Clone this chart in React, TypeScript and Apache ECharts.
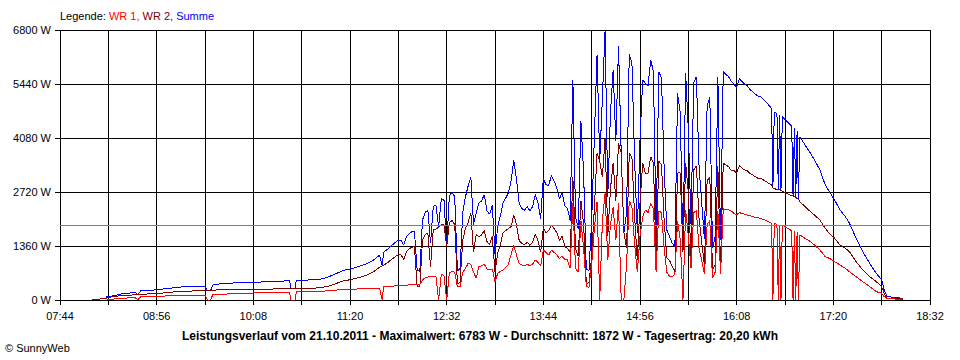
import React, { useEffect, useRef } from "react";
import * as echarts from "echarts";

// Minutes after 07:44 (x axis runs 07:44 .. 18:32)
const minutes = [
  24, 30, 34, 35, 40, 45, 50, 56, 58, 60,
  67, 75, 78, 84, 91, 99, 105, 108, 110, 112,
  114, 120, 130, 144, 155, 165, 171, 172, 175, 176,
  181, 190, 194, 199, 203, 206, 211, 216, 220, 225,
  229, 234, 238, 240, 241, 244, 248,
  250, 252, 254, 256, 258, 260, 262, 264, 266, 268,
  270, 272, 274, 276, 278, 280, 282, 284, 286, 288,
  290, 292, 294, 296, 298, 300, 302, 304, 306, 308,
  310, 312, 314, 316, 318, 320, 322, 324, 326, 328,
  330, 332, 334, 336, 338, 340, 342, 344, 346, 348,
  350, 352, 354, 356, 358, 360, 362, 364, 366, 368,
  370, 372, 374, 376, 378, 380, 382, 384, 386, 388,
  390, 392, 394, 396, 398, 400, 402, 404, 406, 408,
  410, 412, 414, 416, 418, 420, 422, 424, 426, 428,
  430, 432, 434, 436, 438, 440, 442, 444, 446, 448,
  450, 452, 454, 456, 458, 460, 462, 464, 466, 468,
  470, 472, 474, 476, 478, 480, 482, 484, 486, 488,
  490, 492, 494, 496, 498, 500, 502, 504, 506, 508,
  510, 512, 514, 516, 518, 520,
  522, 526, 530, 531, 532, 534, 535, 536, 537, 538,
  540, 544, 545, 546, 547, 548, 549, 550, 551, 555,
  559, 562, 566, 570, 573, 577, 581, 585, 588, 593,
  598, 603, 608, 612, 614, 616, 620, 624, 628,
];

// WR 1 (W)
const wr1 = [
  null, null, null, 20, 25, 40, 50, 60, 0, 84,
  90, 95, 100, 105, 110, 115, 118, 120, 0, 0,
  140, 143, 160, 176, 185, 195, 200, 0, 0, 205,
  210, 215, 218, 230, 240, 250, 265, 270, 275, 285,
  290, 295, 300, 0, 336, 336, 350,
  360, 370, 370, 365, 375, 380, 390, 395, 400, 390,
  504, 560, 580, 588, 590, 600, 0, 650, 620, 0,
  680, 713, 700, 336, 340, 700, 797, 923, 900, 700,
  546, 840, 860, 900, 780, 760, 780, 460, 672, 720,
  756, 820, 900, 1150, 1385, 1133, 923, 880, 860, 900,
  860, 900, 1007, 950, 850, 1259, 1200, 1133, 1259, 1200,
  1133, 1050, 1100, 1020, 1007, 797, 2450, 800, 700, 2000,
  1300, 350, 320, 900, 1800, 2476, 0, 2000, 2700, 1000,
  1900, 2350, 1500, 2450, 0, 0, 900, 2500, 2350, 1400,
  700, 1600, 2100, 2267, 2200, 2435, 2300, 700, 2250, 2200,
  1300, 700, 600, 588, 650, 2000, 1500, 0, 2267, 1600,
  800, 2200, 2250, 1300, 1000, 650, 1900, 2000, 550, 700,
  2250, 650, 2300, 2280, 2267, 2240, 2180, 2150, 2200, 2180,
  2160, 2140, 2120, 2100, 2080, 2070,
  2050, 2000, 1931, 0, 1920, 1910, 0, 1900, 0, 1880,
  1847, 1763, 1750, 0, 1740, 0, 1700, 0, 1637, 1553,
  1469, 1385, 1259, 1091, 1050, 965, 880, 797, 714, 588,
  462, 336, 210, 170, 80, 40, 30, 20, 10,
];

// WR 2 (W)
const wr2 = [
  25, 25, 30, 70, 80, 110, 120, 130, 135, 143,
  155, 168, 185, 200, 220, 227, 228, 228, 228, 230,
  240, 270, 270, 270, 275, 280, 285, 280, 280, 285,
  285, 300, 310, 340, 385, 420, 480, 510, 540, 590,
  630, 720, 830, 860, 870, 940, 1050,
  1100, 1140, 1140, 1020, 1220, 1280, 1330, 1340, 350, 330,
  1511, 1650, 1680, 840, 1763, 1790, 1830, 1900, 1900, 1343,
  1950, 2000, 1900, 400, 450, 1511, 1805, 1950, 2200, 1200,
  1650, 1600, 1637, 1750, 1470, 1400, 1600, 700, 1175, 1400,
  1700, 1750, 1800, 1850, 2140, 1900, 1500, 1420, 1400, 1450,
  1380, 1450, 1650, 1500, 1200, 1805, 1700, 1750, 1880, 1800,
  1700, 1500, 1600, 1350, 1300, 1200, 3100, 1300, 1100, 2500,
  1900, 420, 430, 1100, 2300, 3700, 3500, 3100, 4083, 1600,
  2800, 3450, 2500, 3950, 3700, 1700, 1300, 3700, 3600, 2100,
  1000, 2430, 3450, 3190, 3200, 3610, 3450, 1050, 3500, 3400,
  2000, 1060, 1000, 840, 700, 3200, 3200, 1200, 3442, 2700,
  1100, 3274, 3375, 2050, 1435, 880, 3000, 3100, 750, 900,
  3375, 860, 3450, 3400, 3358, 3260, 3260, 3200, 3380, 3320,
  3274, 3250, 3180, 3148, 3100, 3064,
  3064, 2980, 2896, 2820, 2800, 2790, 2780, 2770, 2760, 2740,
  2700, 2644, 2630, 2620, 2600, 2580, 2560, 2540, 2476, 2350,
  2224, 2140, 2015, 1805, 1680, 1553, 1385, 1300, 1217, 965,
  755, 588, 462, 336, 150, 50, 40, 40, 25,
];

const yTicks = [0, 1360, 2720, 4080, 5440, 6800];
const startMinuteOfDay = 7 * 60 + 44;
const averageW = 1872;
const titleText =
  "Leistungsverlauf vom 21.10.2011 - Maximalwert: 6783 W - Durchschnitt: 1872 W - Tagesertrag: 20,20 kWh";

const FONT = "'Liberation Sans', Arial, sans-serif";

function fmtTime(v: number): string {
  const m = startMinuteOfDay + v;
  const hh = Math.floor(m / 60);
  const mm = m % 60;
  return (hh < 10 ? "0" : "") + hh + ":" + (mm < 10 ? "0" : "") + mm;
}

export default function App() {
  const ref = useRef<HTMLDivElement>(null);

  useEffect(() => {
    if (!ref.current) return;
    const chart = echarts.init(ref.current, null, { renderer: "svg" });

    const pts = (arr: (number | null)[]) =>
      minutes
        .map((t, i) => (arr[i] == null ? null : [t, arr[i] as number]))
        .filter((p) => p !== null) as number[][];

    const summe = minutes.map((t, i) => [t, (wr1[i] ?? 0) + (wr2[i] ?? 0)]);

    const lineBase = {
      type: "line",
      showSymbol: false,
      symbol: "none",
      silent: true,
      animation: false,
    };

    chart.setOption({
      animation: false,
      backgroundColor: "#ffffff",
      textStyle: { fontFamily: FONT },
      title: [
        {
          left: 60,
          top: 10,
          padding: 0,
          text: "{k|Legende: }{a|WR 1,}{b| WR 2,}{c| Summe}",
          textStyle: {
            fontSize: 11,
            fontWeight: "normal",
            fontFamily: FONT,
            rich: {
              k: { color: "#000000", fontSize: 11, fontFamily: FONT },
              a: { color: "#ff0000", fontSize: 11, fontFamily: FONT },
              b: { color: "#800000", fontSize: 11, fontFamily: FONT },
              c: { color: "#0000ff", fontSize: 11, fontFamily: FONT },
            },
          },
        },
        {
          left: "center",
          top: 330,
          padding: 0,
          text: titleText,
          textStyle: {
            fontSize: 12,
            fontWeight: "bold",
            color: "#000000",
            fontFamily: FONT,
          },
        },
        {
          left: 5,
          top: 342,
          padding: 0,
          text: "© SunnyWeb",
          textStyle: {
            fontSize: 11,
            fontWeight: "normal",
            color: "#000000",
            fontFamily: FONT,
          },
        },
      ],
      grid: { left: 60, top: 30, width: 870, height: 270, containLabel: false },
      xAxis: {
        type: "value",
        min: 0,
        max: 648,
        interval: 36,
        axisLine: { show: true, onZero: false, lineStyle: { color: "#000000", width: 1 } },
        axisTick: { show: true, length: 5, lineStyle: { color: "#000000", width: 1 } },
        axisLabel: {
          color: "#000000",
          fontSize: 11,
          fontFamily: FONT,
          margin: 10,
          showMinLabel: true,
          showMaxLabel: true,
          formatter: (v: number) => (v % 72 === 0 ? fmtTime(v) : ""),
        },
        splitLine: { show: true, lineStyle: { color: "#000000", width: 1 } },
      },
      yAxis: {
        type: "value",
        min: yTicks[0],
        max: yTicks[yTicks.length - 1],
        interval: yTicks[1] - yTicks[0],
        axisLine: { show: true, lineStyle: { color: "#000000", width: 1 } },
        axisTick: { show: true, length: 5, lineStyle: { color: "#000000", width: 1 } },
        axisLabel: {
          color: "#000000",
          fontSize: 11,
          fontFamily: FONT,
          margin: 9,
          formatter: (v: number) => `${v} W`,
        },
        splitLine: { show: true, lineStyle: { color: "#000000", width: 1 } },
      },
      series: [
        {
          ...lineBase,
          name: "Summe",
          data: summe,
          lineStyle: { color: "#0000ff", width: 1 },
          itemStyle: { color: "#0000ff" },
        },
        {
          ...lineBase,
          name: "WR 2",
          data: pts(wr2),
          lineStyle: { color: "#800000", width: 1 },
          itemStyle: { color: "#800000" },
        },
        {
          ...lineBase,
          name: "WR 1",
          data: pts(wr1),
          lineStyle: { color: "#ff0000", width: 1 },
          itemStyle: { color: "#ff0000" },
          markLine: {
            silent: true,
            animation: false,
            symbol: ["none", "none"],
            label: { show: false },
            lineStyle: { color: "#808080", width: 1, type: "solid" },
            data: [{ yAxis: averageW }],
          },
        },
      ],
    });

    return () => chart.dispose();
  }, []);

  return (
    <>
      <style>{"#sunny-chart svg path{shape-rendering:crispEdges}"}</style>
      <div
        id="sunny-chart"
        ref={ref}
        style={{ position: "absolute", left: 0, top: 0, width: 960, height: 360, background: "#fff" }}
      />
    </>
  );
}
